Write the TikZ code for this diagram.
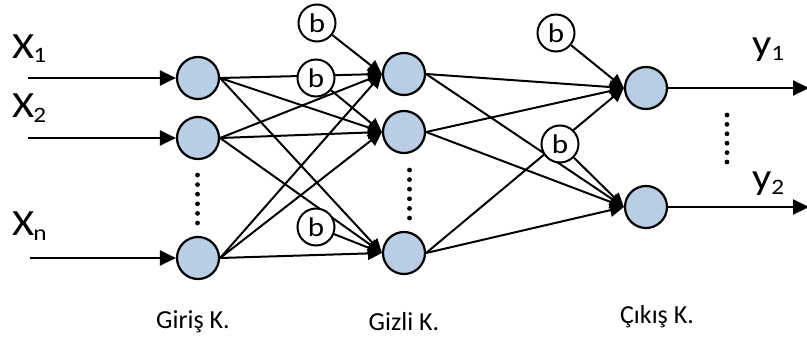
\documentclass[tikz,border=0pt]{standalone}
\usepackage{fontspec}
\setmainfont{Carlito}
\newfontfamily\widefont[FakeStretch=1.15]{Carlito}
\usetikzlibrary{arrows.meta,backgrounds}

\definecolor{neuronfill}{HTML}{B9CDE5}

\tikzset{
  neuron/.style={circle, draw=black, line width=2.2pt, fill=neuronfill,
    minimum size=42pt, inner sep=0pt},
  biasnode/.style={circle, draw=black, line width=2pt, fill=white,
    minimum size=37pt, inner sep=0pt,
    font=\widefont\fontsize{27}{27}\selectfont},
  link/.style={line width=2pt, -{Triangle[length=14pt,width=13pt]}},
  inlink/.style={line width=2.2pt, -{Triangle[length=16pt,width=15pt]}},
  varlbl/.style={anchor=base west, inner sep=0pt,
    font=\widefont\fontsize{37}{37}\selectfont},
  layerlbl/.style={inner sep=0pt, font=\fontsize{26}{30}\selectfont},
}

% letter with a lowered index, spaced by #3
\newcommand{\sublabel}[3]{#1\kern#3\raisebox{-5pt}{\fontsize{22}{22}\selectfont #2}}

\begin{document}
\begin{tikzpicture}[x=1pt,y=-1pt]
  \useasboundingbox (0,0) rectangle (807,340);

  % input layer
  \node[neuron] (i1) at (198,78) {};
  \node[neuron] (i2) at (198,138) {};
  \node[neuron] (in) at (198,258) {};

  % hidden layer
  \node[neuron] (h1) at (404,74) {};
  \node[neuron] (h2) at (404,132) {};
  \node[neuron] (hn) at (404,253) {};

  % output layer
  \node[neuron] (o1) at (646,88) {};
  \node[neuron] (o2) at (646,207) {};

  % bias units
  \node[biasnode] (b1) at (317,23) {b};
  \node[biasnode] (b2) at (316,78) {b};
  \node[biasnode] (b3) at (316,227) {b};
  \node[biasnode] (c1) at (556,33) {b};
  \node[biasnode] (c2) at (560,144) {b};

  % free ends of the input and output lines
  \coordinate (s1) at (28,78);
  \coordinate (s2) at (28,138);
  \coordinate (sn) at (30,258);
  \coordinate (t1) at (809,88);
  \coordinate (t2) at (809,207);

  % variable labels
  \node[varlbl] (x1) at (12,58) {\sublabel{X}{1}{-1pt}};
  \node[varlbl] (x2) at (12,117) {\sublabel{X}{2}{-1pt}};
  \node[varlbl] (xn) at (12,235) {\sublabel{X}{n}{-1pt}};
  \node[varlbl] (y1) at (752,56) {\sublabel{y}{1}{0pt}};
  \node[varlbl] (y2) at (752,189) {\sublabel{y}{2}{0pt}};

  % layer captions
  \node[layerlbl] (lg) at (193,322) {Giriş K.};
  \node[layerlbl] (lh) at (404,322) {Gizli K.};
  \node[layerlbl] (lo) at (657,317) {Çıkış K.};

  % ellipsis dots between units
  \foreach \k in {0,...,5} {
    \fill (197.5,175+9.6*\k) circle (2.4pt);
    \fill (409.5,170+9.6*\k) circle (2.4pt);
    \fill (727,115+9.4*\k) circle (2.4pt);
  }

  \begin{scope}[on background layer]
    % inputs
    \draw[inlink] (s1) -- (i1.west);
    \draw[inlink] (s2) -- (i2.west);
    \draw[inlink] (sn) -- (in.west);
    % input -> hidden
    \foreach \a in {i1,i2,in}
      \foreach \b in {h1,h2,hn}
        \draw[link] (\a.east) -- (\b.west);
    % hidden biases
    \draw[link] (b1) -- (h1.west);
    \draw[link] (b2) -- (h2.west);
    \draw[link] (b3) -- (hn.west);
    % hidden -> output
    \foreach \a in {h1,h2,hn}
      \foreach \b in {o1,o2}
        \draw[link] (\a.east) -- (\b.west);
    % output biases
    \draw[link] (c1) -- (o1.west);
    \draw[link] (c2) -- (o2.west);
    % outputs
    \draw[inlink] (o1.east) -- (t1);
    \draw[inlink] (o2.east) -- (t2);
  \end{scope}
\end{tikzpicture}
\end{document}
